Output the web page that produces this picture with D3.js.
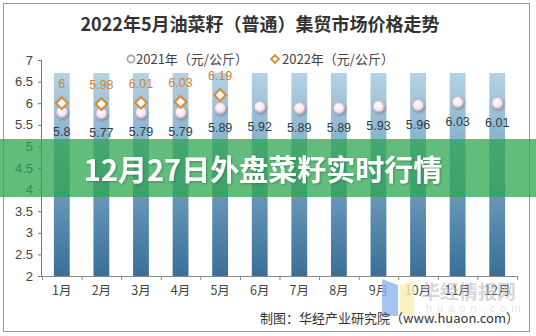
<!DOCTYPE html>
<html><head><meta charset="utf-8">
<script src="https://cdn.jsdelivr.net/npm/d3@7/dist/d3.min.js"></script>
<style>
html,body{margin:0;padding:0;background:#fff;}
svg{display:block;}
</style>
</head><body>
<svg id="c" width="536" height="336"></svg>
<script>
const months = ["1月","2月","3月","4月","5月","6月","7月","8月","9月","10月","11月","12月"];
const values2021 = [5.8,5.77,5.79,5.79,5.89,5.92,5.89,5.89,5.93,5.96,6.03,6.01];
const values2022 = [6,5.98,6.01,6.03,6.19];
const bgBarValue = [6.7,6.7,6.7,6.7,6.7,6.7,6.7,6.7,6.7,6.7,6.7,6.7];
const yTicks = [2,2.5,3,3.5,4,4.5,5,5.5,6,6.5,7];
const title = "2022年5月油菜籽（普通）集贸市场价格走势";
const legendLabels = ["2021年（元/公斤）","2022年（元/公斤）"];
const bannerText = "12月27日外盘菜籽实时行情";
const sourceText = "制图：华经产业研究院（www.huaon.com）";

(function(){
const svg = d3.select("#c");
const cjk = "'Noto Sans CJK SC','Noto Sans',sans-serif";
const num = "'Liberation Sans',Arial,sans-serif";

const defs = svg.append("defs");
const g1 = defs.append("linearGradient").attr("id","barg").attr("x1",0).attr("y1",0).attr("x2",0).attr("y2",1);
g1.append("stop").attr("offset","0%").attr("stop-color","#b4d2e4");
g1.append("stop").attr("offset","45%").attr("stop-color","#7aa7c6");
g1.append("stop").attr("offset","100%").attr("stop-color","#3a6f97");
const rg = defs.append("radialGradient").attr("id","cg").attr("cx","45%").attr("cy","40%").attr("r","60%");
rg.append("stop").attr("offset","0%").attr("stop-color","#ffffff");
rg.append("stop").attr("offset","100%").attr("stop-color","#f1dbe8");
const dg = defs.append("radialGradient").attr("id","dg").attr("cx","50%").attr("cy","45%").attr("r","60%");
dg.append("stop").attr("offset","0%").attr("stop-color","#ffffff");
dg.append("stop").attr("offset","100%").attr("stop-color","#fbe9d4");
const sh = defs.append("filter").attr("id","sh").attr("x","-50%").attr("y","-50%").attr("width","200%").attr("height","200%");
sh.append("feDropShadow").attr("dx",1).attr("dy",1.5).attr("stdDeviation",1.2).attr("flood-color","#555").attr("flood-opacity",0.45);
const tsh = defs.append("filter").attr("id","tsh").attr("x","-10%").attr("y","-30%").attr("width","120%").attr("height","160%");
tsh.append("feDropShadow").attr("dx",1).attr("dy",1).attr("stdDeviation",1).attr("flood-color","#1b5e30").attr("flood-opacity",0.5);

svg.append("rect").attr("x",3.5).attr("y",3.5).attr("width",526).attr("height",328)
  .attr("fill","#fff").attr("stroke","#9a9a9a").attr("stroke-width",1);

const pl = 42, pr = 517, pt = 60, pb = 276;
const x = d3.scaleBand().domain(months).range([pl,pr]).paddingInner(0.6).paddingOuter(0.3);
const xb = d3.scaleBand().domain(months).range([pl,pr]);
const y = d3.scaleLinear().domain([2,7]).range([pb,pt]);
const diamond = d3.symbol(d3.symbolSquare, 70)();
const diamondSmall = d3.symbol(d3.symbolSquare, 30)();

svg.append("text").attr("x",260).attr("y",31).attr("text-anchor","middle")
  .attr("font-family",cjk).attr("font-weight","bold").attr("font-size",18).attr("fill","#333")
  .text(title);

const lg = svg.append("g").attr("font-family",cjk).attr("font-size",13).attr("fill","#444");
lg.append("circle").attr("cx",131).attr("cy",59).attr("r",3.6).attr("fill","#fff").attr("stroke","#a99aa5").attr("stroke-width",1.6);
lg.append("text").attr("x",136).attr("y",64).text(legendLabels[0]);
lg.append("path").attr("d",diamondSmall).attr("transform","translate(275,59) rotate(45)")
  .attr("fill","#fff").attr("stroke","#d98a34").attr("stroke-width",1.8);
lg.append("text").attr("x",282).attr("y",64).text(legendLabels[1]);

svg.append("g").selectAll("rect").data(bgBarValue).join("rect")
  .attr("x",(d,i)=>x(months[i])).attr("width",x.bandwidth())
  .attr("y",d=>y(d)).attr("height",d=>y(2)-y(d)).attr("fill","url(#barg)");

const ya = svg.append("g").attr("transform",`translate(${pl},0)`)
  .call(d3.axisLeft(y).tickValues(yTicks).tickSize(4).tickPadding(5).tickFormat(d3.format("")));
ya.select(".domain").attr("stroke","#777").attr("d",`M-0.5,${pt}V${pb}`);
ya.selectAll(".tick line").attr("stroke","#777");
ya.selectAll(".tick text").attr("font-family",num).attr("font-size",13).attr("fill","#444");

const xa = svg.append("g").attr("transform",`translate(0,${pb})`)
  .call(d3.axisBottom(xb).tickSize(0).tickPadding(10));
xa.select(".domain").attr("stroke","#888");
xa.selectAll(".tick text").attr("font-family",cjk).attr("font-size",12.5).attr("fill","#444");
svg.append("g").selectAll("line").data(months.concat(["end"])).join("line")
  .attr("x1",(d,i)=>pl+i*xb.step()+0.5).attr("x2",(d,i)=>pl+i*xb.step()+0.5)
  .attr("y1",pb).attr("y2",pb+4).attr("stroke","#888");

const cx = i => x(months[i]) + x.bandwidth()/2;
svg.append("g").selectAll("circle").data(values2021).join("circle")
  .attr("cx",(d,i)=>cx(i)).attr("cy",d=>y(d)).attr("r",5.6)
  .attr("fill","url(#cg)").attr("stroke","#c9b5c4").attr("stroke-width",1.4).attr("filter","url(#sh)");
svg.append("g").selectAll("text").data(values2021).join("text")
  .attr("x",(d,i)=>cx(i)).attr("y",d=>y(d)+24).attr("text-anchor","middle")
  .attr("font-family",num).attr("font-size",12.5).attr("fill","#2f3b48").text(d=>d);

svg.append("g").selectAll("path").data(values2022).join("path")
  .attr("d",diamond)
  .attr("transform",(d,i)=>`translate(${cx(i)},${y(d)}) rotate(45)`)
  .attr("fill","url(#dg)").attr("stroke","#d68a3a").attr("stroke-width",2);
svg.append("g").selectAll("text").data(values2022).join("text")
  .attr("x",(d,i)=>cx(i)).attr("y",d=>y(d)-15).attr("text-anchor","middle")
  .attr("font-family",num).attr("font-size",12.5).attr("fill","#d08530").text(d=>d);

const wm = svg.append("g");
wm.append("path").attr("d","M382,279 L398,285 L398,316 L382,316 Z").attr("fill","#8fb6ec").attr("opacity",0.8);
wm.append("path").attr("d","M400,285 L414,281 L414,316 L400,316 Z").attr("fill","#fbeeb0").attr("opacity",0.8);
wm.append("text").attr("x",421).attr("y",299).attr("font-family",cjk).attr("font-weight","bold")
  .attr("font-size",19).attr("fill","#bdbdbd").attr("opacity",0.6).text("华经情报网");
wm.append("text").attr("x",426).attr("y",312).attr("font-family",num)
  .attr("font-size",11).attr("letter-spacing",5).attr("fill","#d2d2d2").attr("opacity",0.6).text("huaon.com");

svg.append("text").attr("x",519).attr("y",323).attr("text-anchor","end")
  .attr("font-family",cjk).attr("font-size",13).attr("fill","#333").text(sourceText);

svg.append("rect").attr("x",0).attr("y",139).attr("width",536).attr("height",58)
  .attr("fill","#2ea650").attr("opacity",0.75);
svg.append("text").attr("x",263).attr("y",181).attr("text-anchor","middle")
  .attr("font-family",cjk).attr("font-weight","bold").attr("font-size",29).attr("fill","#fff")
  .attr("filter","url(#tsh)").text(bannerText);
})();
</script>
</body></html>
